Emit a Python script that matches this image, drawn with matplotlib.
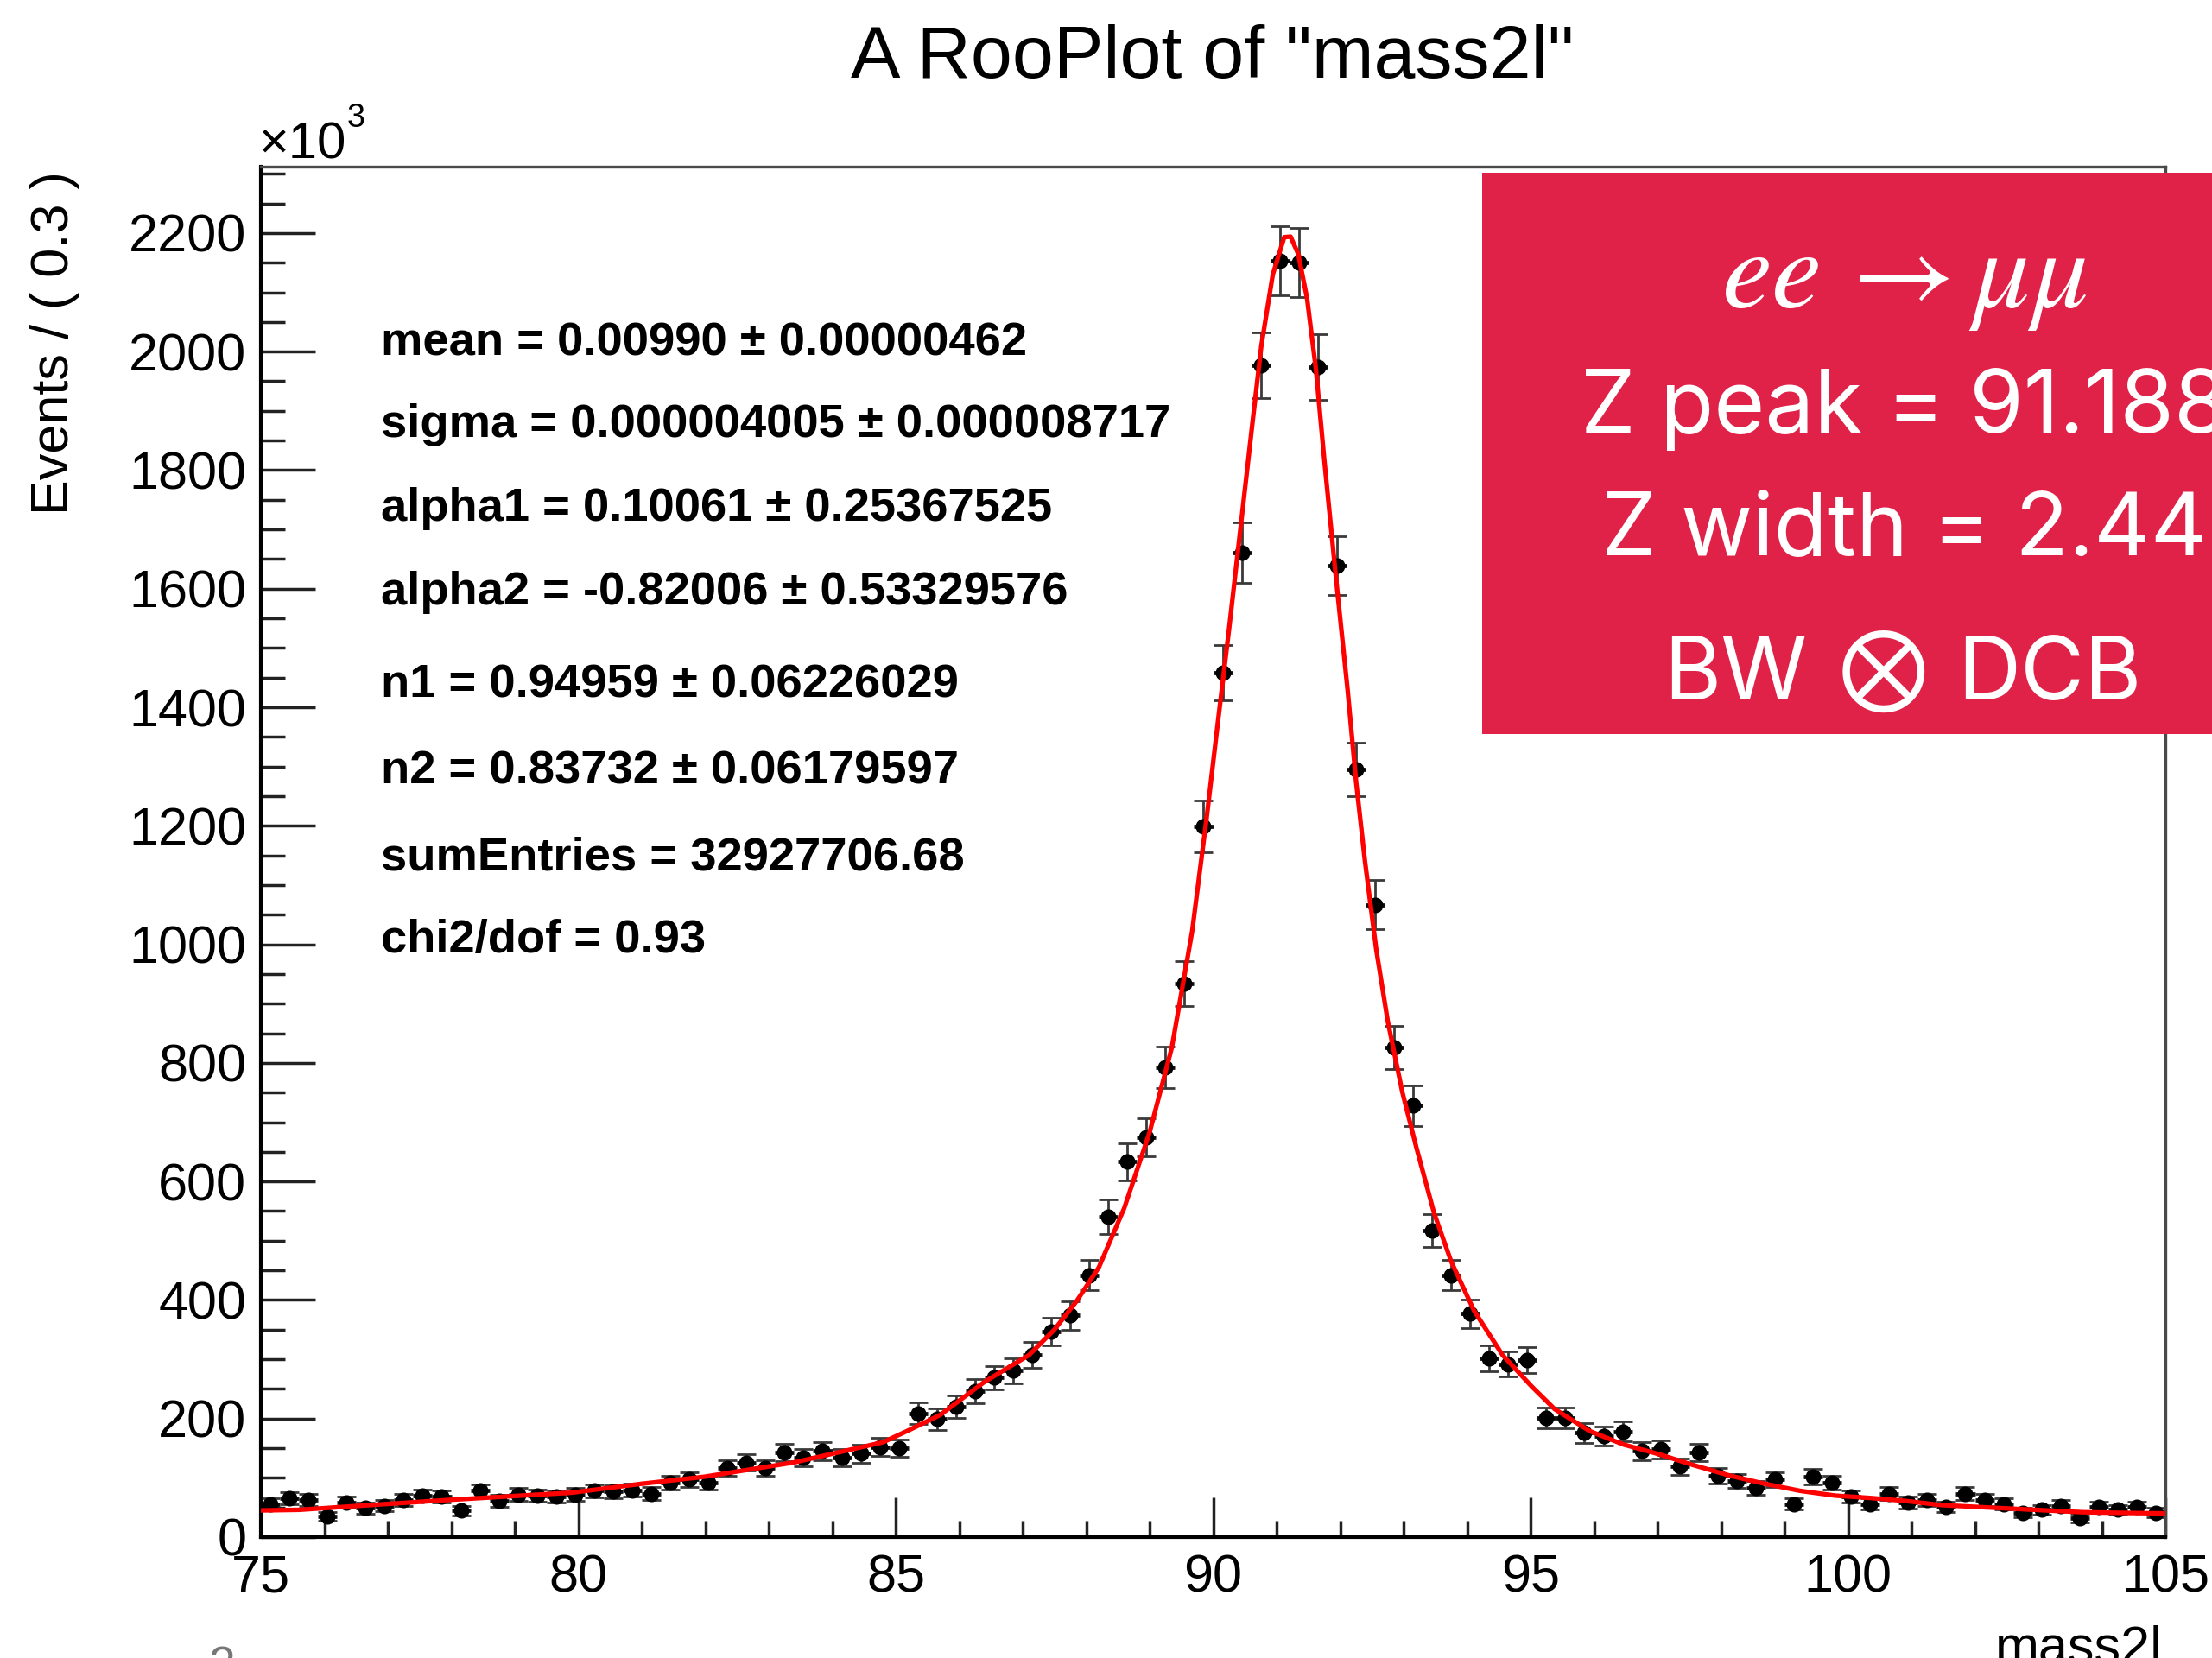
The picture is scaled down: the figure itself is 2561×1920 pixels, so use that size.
import matplotlib
matplotlib.use('Agg')
import matplotlib.pyplot as plt
from matplotlib.patches import Rectangle
from matplotlib.ticker import MultipleLocator, FuncFormatter
import numpy as np

# ---------------- data (y in units of 10^3) ----------------
bin_low = 75.0
bin_width = 0.3
counts = [56, 66, 63, 35, 59, 49, 53, 63, 70, 68,
          45, 78, 61, 72, 70, 68, 72, 78, 77, 79,
          73, 92, 97, 92, 117, 126, 117, 143, 134, 145,
          134, 141, 152, 150, 209, 199, 220, 246, 269, 281,
          307, 347, 374, 442, 540, 633, 675, 793, 934, 1199,
          1458, 1661, 1977, 2153, 2150, 1974, 1639, 1295, 1067, 826,
          728, 517, 442, 377, 302, 292, 299, 201, 201, 176,
          171, 178, 145, 148, 119, 143, 104, 95, 83, 97,
          56, 102, 92, 68, 56, 73, 58, 63, 51, 73,
          63, 56, 41, 46, 53, 32, 51, 46, 51, 41]
count_err = [9, 10, 10, 7, 10, 9, 9, 10, 10, 10,
             8, 11, 10, 11, 10, 10, 11, 11, 11, 11,
             11, 12, 12, 12, 13, 14, 13, 15, 14, 15,
             14, 15, 15, 15, 18, 18, 19, 20, 20, 21,
             22, 23, 24, 26, 29, 31, 32, 35, 38, 43,
             47, 51, 55, 58, 58, 55, 50, 45, 41, 36,
             34, 28, 26, 24, 22, 21, 22, 18, 18, 17,
             16, 17, 15, 15, 14, 15, 13, 12, 11, 12,
             9, 13, 12, 10, 9, 11, 10, 10, 9, 11,
             10, 9, 8, 8, 9, 7, 9, 8, 9, 8]
curve_x = [75.0, 75.6, 76.3, 77.0, 78.0, 79.1, 79.9, 81.0, 82.0, 83.4,
           84.8, 85.2, 85.7, 86.4, 87.1, 87.5, 87.85, 88.2, 88.6, 89.0,
           89.35, 89.67, 89.9, 90.07, 90.26, 90.44, 90.62, 90.76, 90.94, 91.12,
           91.22, 91.34, 91.48, 91.62, 91.75, 91.93, 92.12, 92.25, 92.39, 92.57,
           92.75, 92.98, 93.2, 93.48, 93.75, 94.11, 94.56, 95.02, 95.38, 95.93,
           96.47, 97.02, 97.58, 98.13, 98.69, 99.25, 99.8, 100.36, 100.91, 101.47,
           102.02, 102.58, 103.13, 103.69, 104.25, 105.0]
curve_y = [45, 46, 51, 56, 63, 70, 75, 90, 102, 126,
           160, 180, 206, 262, 307, 350, 398, 455, 555, 683,
           826, 1022, 1215, 1370, 1540, 1710, 1880, 2010, 2130, 2193,
           2194, 2165, 2090, 1970, 1819, 1624, 1428, 1277, 1142, 991,
           871, 751, 658, 547, 465, 382, 307, 254, 216, 179,
           156, 140, 121, 104, 90, 78, 70, 66, 61, 54,
           51, 48, 45, 42, 41, 40]
stats_lines = ["mean = 0.00990 \u00b1 0.00000462",
               "sigma = 0.000004005 \u00b1 0.000008717",
               "alpha1 = 0.10061 \u00b1 0.25367525",
               "alpha2 = -0.82006 \u00b1 0.53329576",
               "n1 = 0.94959 \u00b1 0.06226029",
               "n2 = 0.83732 \u00b1 0.06179597",
               "sumEntries = 32927706.68",
               "chi2/dof = 0.93"]
box_lines = ["Z peak = 91.188", "Z width = 2.44"]
box_model = ["BW", r"$\otimes$", "DCB"]
title = 'A RooPlot of "mass2l"'
x_label = "mass2l"
y_label = "Events / ( 0.3 )"

# ---------------- layout ----------------
W, H, DPI = 2561, 1920, 100
plt.rcParams['font.family'] = ['Liberation Sans', 'DejaVu Sans']


def fx(px):
    return px / W


def fy(py):
    return 1 - py / H


fig = plt.figure(figsize=(W / DPI, H / DPI), dpi=DPI)
fig.patch.set_facecolor('white')
ax = fig.add_axes([fx(302), fy(1780), (2507 - 302) / W, (1780 - 193) / H])
ax.set_xlim(75, 105)
ax.set_ylim(0, 2312)

centers = bin_low + bin_width * (np.arange(len(counts)) + 0.5)

ax.errorbar(centers, counts, xerr=bin_width / 2, fmt='none', ecolor='#111111',
            elinewidth=3.4, capsize=0, zorder=2)
ax.errorbar(centers, counts, yerr=count_err, fmt='none', ecolor='#3a3a3a',
            elinewidth=2.0, capsize=8, capthick=2.0, zorder=2)
ax.plot(centers, counts, 'o', ms=12, color='black', zorder=3)
ax.plot(curve_x, curve_y, color='#ff0000', lw=3.8, zorder=4,
        solid_joinstyle='round', clip_on=True)

for s in ['left', 'bottom']:
    ax.spines[s].set_linewidth(3.0)
    ax.spines[s].set_color('black')
for s in ['top', 'right']:
    ax.spines[s].set_linewidth(2.4)
    ax.spines[s].set_color('#4a4a4a')

ax.xaxis.set_major_locator(MultipleLocator(5))
ax.xaxis.set_minor_locator(MultipleLocator(1))
ax.yaxis.set_major_locator(MultipleLocator(200))
ax.yaxis.set_minor_locator(MultipleLocator(50))
fmt = FuncFormatter(lambda v, p: f'{v:g}')
ax.xaxis.set_major_formatter(fmt)
ax.yaxis.set_major_formatter(fmt)
ax.tick_params(axis='x', which='major', direction='in', length=33, width=2.5,
               pad=14, labelsize=44, color='#222222')
ax.tick_params(axis='x', which='minor', direction='in', length=14, width=2.5, color='#222222')
ax.tick_params(axis='y', which='major', direction='in', length=45, width=2.5,
               pad=12, labelsize=44, color='#222222')
ax.tick_params(axis='y', which='minor', direction='in', length=20, width=2.5, color='#222222')
ax.tick_params(top=False, right=False)

# texts
fig.text(fx(1404), fy(90), title, ha='center', va='baseline', fontsize=62)
fig.text(fx(64), fy(198), y_label, rotation=90, ha='center', va='top', fontsize=44)
fig.text(fx(2504), fy(1882), x_label, ha='right', va='top', fontsize=44)
fig.text(fx(300), fy(183), '\u00d710', ha='left', va='baseline', fontsize=43)
fig.text(fx(402), fy(147), '3', ha='left', va='baseline', fontsize=27)
fig.text(fx(257), fy(1905), '2', ha='center', va='top', fontsize=40, color='#777777')

stat_baselines = [411, 506, 603, 700, 807, 908, 1008, 1103]
for line, yb in zip(stats_lines, stat_baselines):
    fig.text(fx(441), fy(yb), line, ha='left', va='baseline', fontsize=39.2,
             fontweight='bold')

# red annotation box
fig.add_artist(Rectangle((fx(1716), fy(850)), (W - 1716) / W, (850 - 200) / H,
                         transform=fig.transFigure, facecolor='#E02249',
                         edgecolor='none', zorder=5))
fig.text(fx(2205), fy(356), r'$ee\,\rightarrow\mu\mu$', math_fontfamily='stix',
         fontsize=94, color='white', ha='center', va='baseline', zorder=6)
for line, yb in zip(box_lines, [501, 642]):
    fig.text(fx(2205), fy(yb), line, family=['Inter', 'DejaVu Sans'],
             fontsize=73, color='white', ha='center', va='baseline', zorder=6)
fig.text(fx(2092), fy(810), box_model[0], family=['Inter', 'DejaVu Sans'],
         fontsize=73, color='white', ha='right', va='baseline', zorder=6)
fig.text(fx(2178), fy(777), box_model[1], math_fontfamily='stix',
         fontsize=92, color='white', ha='center', va='center', zorder=6)
fig.text(fx(2266), fy(810), box_model[2], family=['Inter', 'DejaVu Sans'],
         fontsize=73, color='white', ha='left', va='baseline', zorder=6)

fig.savefig('out.png', dpi=DPI)
